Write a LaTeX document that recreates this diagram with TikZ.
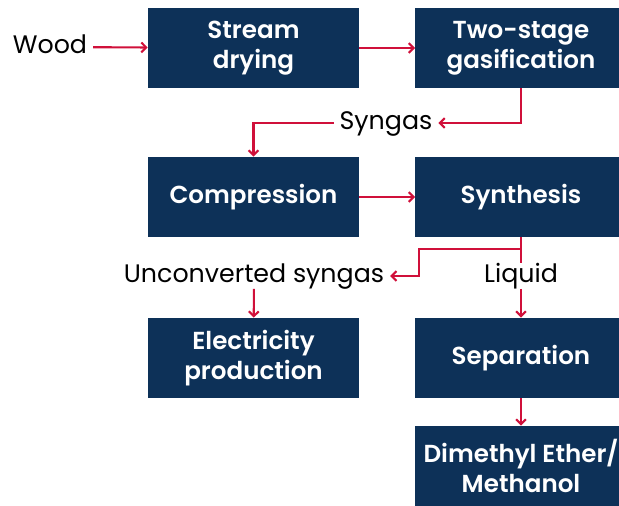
\documentclass[tikz,border=0pt]{standalone}
\usepackage{fontspec}
\setmainfont{Poppins}[BoldFont={Poppins SemiBold}]
\usetikzlibrary{arrows.meta}
\definecolor{navy}{HTML}{0D3158}
\definecolor{flowred}{HTML}{D0103A}
\begin{document}
\begin{tikzpicture}[x=0.025cm,y=-0.025cm,
  box/.style={fill=navy,text=white,font=\fontsize{17.5}{21.5}\selectfont\bfseries,align=center,
    minimum width=5.275cm,minimum height=2cm,inner sep=0pt},
  lbl/.style={font=\fontsize{18}{21}\selectfont,text height=12.5pt,text depth=3.5pt,inner xsep=4pt,inner ysep=1pt},
  flow/.style={draw=flowred,line width=1.5pt,-{Straight Barb[length=3.5pt,width=7pt]}},
  plain/.style={draw=flowred,line width=1.5pt}]
\useasboundingbox (0,0) rectangle (619,506);
% boxes
\node[box] (dry) at (253.5,48) {Stream\\drying};
\node[box] (gas) at (521,48) {Two-stage\\gasification};
\node[box] (comp) at (253.5,197) {Compression};
\node[box] (syn) at (521,197) {Synthesis};
\node[box] (elec) at (253.5,358) {Electricity\\production};
\node[box] (sep) at (521,358) {Separation};
\node[box] (dme) at (521,466) {Dimethyl Ether/\\Methanol};
% labels
\node[lbl] (wood) at (50,47) {Wood};
\node[lbl] (syngas) at (386,123) {Syngas};
\node[lbl] (unconv) at (254,276) {Unconverted syngas};
\node[lbl] (liq) at (521,276) {Liquid};
\coordinate (split) at (521,249);
\coordinate (bend) at (419,249);
% connectors
\draw[flow] (wood) -- (dry);
\draw[flow] (dry) -- (gas);
\draw[flow] (gas.south) |- (syngas.east);
\draw[flow] (syngas.west) -| (comp.north);
\draw[flow] (comp) -- (syn);
\draw[plain] (syn.south) -- (liq.north);
\draw[flow] (split) -- (bend) |- (unconv.east);
\draw[flow] (unconv) -- (elec);
\draw[flow] (liq) -- (sep);
\draw[flow] (sep) -- (dme);
\end{tikzpicture}
\end{document}
